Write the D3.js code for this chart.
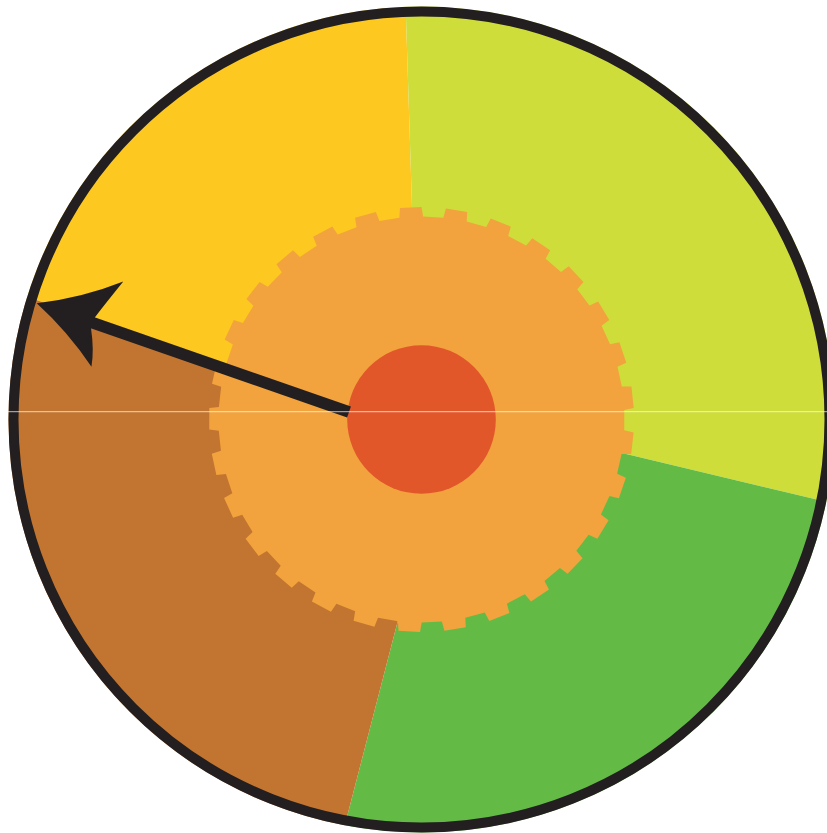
<!DOCTYPE html>
<html><head><meta charset="utf-8">
<script src="https://cdn.jsdelivr.net/npm/d3@7"></script>
<style>html,body{margin:0;padding:0;background:#fff;overflow:hidden}</style>
</head><body>
<svg id="chart" width="827" height="833"></svg>
<script>
// ---- data ----
const sliceNames  = ["Yellow", "Lime", "Green", "Brown"];
const sliceColors = ["#FDC820", "#CEDD3A", "#63BB46", "#C27530"];
// angle (deg, clockwise from 12 o'clock) at which each slice starts, read at the rim and near the hub
const sliceStartRim = [-72.7, -2.2, 101.5, 190.7];
const sliceStartHub = [-74.9, -2.6, 99.4, 186.6];
const gearTeeth = 29;
const gearPhase = -2.9;       // deg, centre of first tooth
const pointerAngle = -70.8;   // deg, direction of the arrow

// ---- layout ----
const W = 827, H = 833;
const cx = 421.5, cy = 419.5;
const rimR = 408, rimW = 10, sliceR = 413, hubLineR = 200;
const gearOuter = 212.5, gearInner = 203, hubR = 74.3;
const ink = "#231F20";

const svg = d3.select("#chart");
const g = svg.append("g").attr("transform", `translate(${cx},${cy})`);
const rad = d3.scaleLinear().domain([0, 360]).range([0, 2 * Math.PI]);
const pt = (aDeg, r) => [r * Math.sin(rad(aDeg)), -r * Math.cos(rad(aDeg))];

// slices
const slices = sliceNames.map((name, i) => {
  const j = (i + 1) % sliceNames.length;
  let a0r = sliceStartRim[i], a1r = sliceStartRim[j];
  let a0h = sliceStartHub[i], a1h = sliceStartHub[j];
  if (a1r <= a0r) a1r += 360;
  if (a1h <= a0h) a1h += 360;
  return {name, color: sliceColors[i], a0r, a1r, a0h, a1h};
});
g.selectAll("path.slice").data(slices).join("path")
  .attr("class", "slice")
  .attr("fill", d => d.color)
  .attr("d", d => {
    const p = d3.path();
    p.moveTo(0, 0);
    p.lineTo(...pt(d.a0h, hubLineR));
    p.lineTo(...pt(d.a0r, sliceR));
    p.arc(0, 0, sliceR, rad(d.a0r) - Math.PI / 2, rad(d.a1r) - Math.PI / 2);
    p.lineTo(...pt(d.a1h, hubLineR));
    p.closePath();
    return p.toString();
  });

// rim
g.append("circle").attr("r", rimR).attr("fill", "none")
  .attr("stroke", ink).attr("stroke-width", rimW);

// gear
const period = 360 / gearTeeth;
const gearPts = [];
d3.range(gearTeeth).forEach(i => {
  const c = gearPhase + i * period;
  gearPts.push([c - 0.27 * period, gearInner]);
  gearPts.push([c - 0.235 * period, gearOuter]);
  gearPts.push([c + 0.235 * period, gearOuter]);
  gearPts.push([c + 0.27 * period, gearInner]);
});
const gearLine = d3.lineRadial().angle(d => rad(d[0])).radius(d => d[1]).curve(d3.curveLinearClosed);
g.append("path").attr("d", gearLine(gearPts)).attr("fill", "#F2A33D");

// hub
g.append("circle").attr("r", hubR).attr("fill", "#E2572A");

// pointer
const off = -16.8;
const pg = g.append("g").attr("transform", `rotate(${pointerAngle})`);
pg.append("line")
  .attr("x1", off).attr("y1", -70.9).attr("x2", off).attr("y2", -350)
  .attr("stroke", ink).attr("stroke-width", 11.5).attr("stroke-linecap", "butt");
const tip = [off, -401.6], ub = [off + 49, -327], lb = [off - 42, -329];
const hp = d3.path();
hp.moveTo(...tip);
hp.quadraticCurveTo(off + 19.5, -361, ...ub);
hp.quadraticCurveTo(off + 24, -336, off + 6, -342);
hp.lineTo(off - 6, -342);
hp.quadraticCurveTo(off - 25, -332, ...lb);
hp.quadraticCurveTo(off - 16.5, -362.8, ...tip);
hp.closePath();
pg.append("path").attr("d", hp.toString()).attr("fill", ink);

// faint scan seam visible in the reference
svg.append("rect").attr("x", 0).attr("y", 411.2).attr("width", W).attr("height", 1)
  .attr("fill", "#ffffff").attr("opacity", 0.7);
</script>
</body></html>
